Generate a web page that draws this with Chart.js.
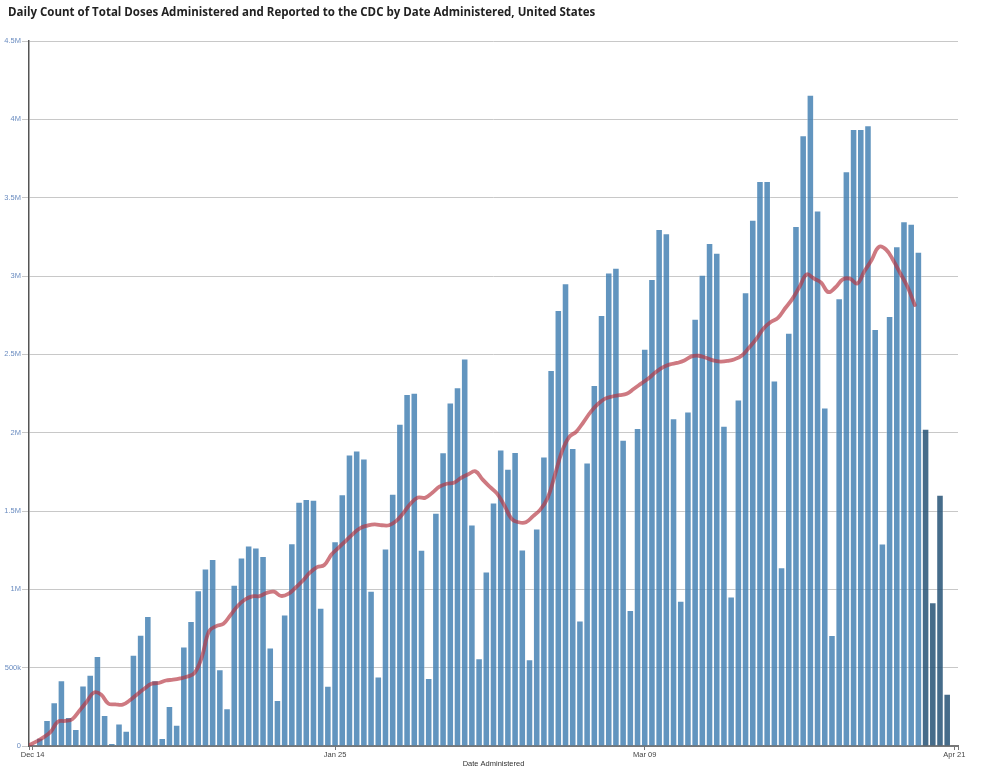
<!DOCTYPE html>
<html>
<head>
<meta charset="utf-8">
<script src="https://cdn.jsdelivr.net/npm/chart.js@4"></script>
<style>
  body { margin: 0; background: #fff; }
  #wrap { width: 982px; height: 768px; position: relative; }
  #title {
    position: absolute; left: 8px; top: 4px;
    font-family: "Open Sans", sans-serif; font-weight: bold; font-size: 11.5px;
    color: #222; white-space: nowrap;
  }
</style>
</head>
<body>
<div id="wrap">
  <div id="title">Daily Count of Total Doses Administered and Reported to the CDC by Date Administered, United States</div>
  <canvas id="myChart"></canvas>
</div>
<script>
const dates = [
  "Dec 14","Dec 15","Dec 16","Dec 17","Dec 18","Dec 19","Dec 20","Dec 21","Dec 22","Dec 23","Dec 24","Dec 25","Dec 26","Dec 27","Dec 28","Dec 29","Dec 30","Dec 31",
  "Jan 01","Jan 02","Jan 03","Jan 04","Jan 05","Jan 06","Jan 07","Jan 08","Jan 09","Jan 10","Jan 11","Jan 12","Jan 13","Jan 14","Jan 15","Jan 16","Jan 17","Jan 18","Jan 19","Jan 20","Jan 21","Jan 22","Jan 23","Jan 24","Jan 25","Jan 26","Jan 27","Jan 28","Jan 29","Jan 30","Jan 31",
  "Feb 01","Feb 02","Feb 03","Feb 04","Feb 05","Feb 06","Feb 07","Feb 08","Feb 09","Feb 10","Feb 11","Feb 12","Feb 13","Feb 14","Feb 15","Feb 16","Feb 17","Feb 18","Feb 19","Feb 20","Feb 21","Feb 22","Feb 23","Feb 24","Feb 25","Feb 26","Feb 27","Feb 28",
  "Mar 01","Mar 02","Mar 03","Mar 04","Mar 05","Mar 06","Mar 07","Mar 08","Mar 09","Mar 10","Mar 11","Mar 12","Mar 13","Mar 14","Mar 15","Mar 16","Mar 17","Mar 18","Mar 19","Mar 20","Mar 21","Mar 22","Mar 23","Mar 24","Mar 25","Mar 26","Mar 27","Mar 28","Mar 29","Mar 30","Mar 31",
  "Apr 01","Apr 02","Apr 03","Apr 04","Apr 05","Apr 06","Apr 07","Apr 08","Apr 09","Apr 10","Apr 11","Apr 12","Apr 13","Apr 14","Apr 15","Apr 16","Apr 17","Apr 18","Apr 19","Apr 20","Apr 21"
];

// daily doses, millions (Dec 14 .. Apr 20)
const dailyDoses = [
  0.005, 0.050, 0.162, 0.276, 0.417, 0.182, 0.105, 0.382, 0.451, 0.571,
  0.194, 0.015, 0.141, 0.094, 0.579, 0.707, 0.827, 0.417, 0.047, 0.252,
  0.132, 0.632, 0.795, 0.991, 1.130, 1.190, 0.487, 0.238, 1.026, 1.200,
  1.277, 1.264, 1.209, 0.626, 0.291, 0.836, 1.291, 1.555, 1.574, 1.568,
  0.879, 0.381, 1.304, 1.604, 1.857, 1.883, 1.832, 0.987, 0.440, 1.257,
  1.607, 2.053, 2.243, 2.251, 1.249, 0.430, 1.485, 1.872, 2.189, 2.287,
  2.470, 1.411, 0.557, 1.111, 1.551, 1.889, 1.766, 1.874, 1.251, 0.551,
  1.385, 1.845, 2.396, 2.779, 2.951, 1.898, 0.798, 1.806, 2.301, 2.748,
  3.019, 3.049, 1.951, 0.864, 2.026, 2.533, 2.977, 3.297, 3.269, 2.089,
  0.923, 2.131, 2.724, 3.005, 3.208, 3.145, 2.040, 0.951, 2.208, 2.893,
  3.355, 3.603, 3.603, 2.330, 1.138, 2.635, 3.316, 3.895, 4.154, 3.414,
  2.157, 0.705, 2.854, 3.665, 3.935, 3.935, 3.959, 2.659, 1.289, 2.741,
  3.186, 3.346, 3.330, 3.151, 2.022, 0.914, 1.600, 0.330
];

// 7-day average line, millions (Dec 14 .. Apr 16)
const sevenDayAvg = [
  0.005, 0.028, 0.055, 0.090, 0.155, 0.160, 0.171, 0.225, 0.282, 0.341,
  0.329, 0.271, 0.266, 0.264, 0.292, 0.329, 0.365, 0.397, 0.402, 0.418,
  0.423, 0.431, 0.443, 0.467, 0.568, 0.732, 0.765, 0.780, 0.837, 0.895,
  0.935, 0.955, 0.957, 0.977, 0.985, 0.958, 0.971, 1.010, 1.055, 1.106,
  1.142, 1.155, 1.222, 1.266, 1.310, 1.354, 1.391, 1.407, 1.415, 1.409,
  1.409, 1.437, 1.488, 1.548, 1.586, 1.584, 1.617, 1.655, 1.674, 1.680,
  1.712, 1.735, 1.753, 1.700, 1.654, 1.611, 1.536, 1.451, 1.428, 1.428,
  1.467, 1.509, 1.581, 1.726, 1.880, 1.972, 2.007, 2.068, 2.133, 2.183,
  2.217, 2.231, 2.239, 2.248, 2.280, 2.313, 2.346, 2.385, 2.417, 2.436,
  2.445, 2.460, 2.487, 2.491, 2.478, 2.461, 2.454, 2.458, 2.469, 2.493,
  2.543, 2.599, 2.665, 2.706, 2.733, 2.794, 2.854, 2.931, 3.010, 2.983,
  2.958, 2.897, 2.928, 2.978, 2.983, 2.952, 3.030, 3.102, 3.185, 3.169,
  3.101, 3.016, 2.930, 2.815
];

const xTickLabels = ["Dec 14", "Jan 25", "Mar 09", "Apr 21"];
const yTickValues = [0, 0.5, 1, 1.5, 2, 2.5, 3, 3.5, 4, 4.5];
const firstIncomplete = "Apr 17"; // darker bars: reporting still coming in

const lagIdx = dates.indexOf(firstIncomplete);
const barColors = dailyDoses.map((v, i) => i >= lagIdx ? "rgba(38,82,118,0.85)" : "rgba(70,130,180,0.85)");
const tickIdx = xTickLabels.map(l => dates.indexOf(l));
const lastIdx = dates.length - 1;

let ctx = document.getElementById("myChart").getContext("2d");

let myChart = new Chart(ctx, {
    type: "bar",
    data: {
        datasets: [
            {
                type: "line",
                label: "7-day average",
                data: sevenDayAvg.map((v, i) => ({ x: i - 0.5, y: v })),
                borderColor: "rgba(180,52,64,0.66)",
                borderWidth: 3.8,
                borderCapStyle: "round",
                pointRadius: 0,
                tension: 0.4,
                fill: false,
                order: 0,
            },
            {
                label: "Doses",
                data: dailyDoses.map((v, i) => ({ x: i, y: v })),
                backgroundColor: barColors,
                borderColor: "rgba(255,255,255,0.28)",
                borderWidth: 0.8,
                barThickness: 6.5,
                order: 1,
            },
        ],
    },
    options: {
        responsive: true,
        maintainAspectRatio: false,
        animation: false,
        layout: { padding: { left: 0, right: 24, top: 41, bottom: 0 } },
        plugins: {
            legend: { display: false },
            tooltip: { enabled: false },
        },
        scales: {
            x: {
                type: "linear",
                offset: false,
                min: -0.5,
                max: lastIdx + 0.5,
                afterBuildTicks: s => {
                    s.ticks = [-0.5, ...tickIdx, lastIdx + 0.5].map(v => ({ value: v }));
                },
                afterFit: s => { s.height = 22; },
                grid: { offset: false, drawOnChartArea: false, drawTicks: true, tickLength: 4, color: "#777" },
                border: { color: "#777", width: 2 },
                ticks: {
                    autoSkip: false,
                    maxRotation: 0,
                    padding: 0,
                    color: "#444",
                    font: { family: "Liberation Sans", size: 7.5 },
                    callback: v => (tickIdx.includes(v) ? dates[v] : ""),
                },
                title: {
                    display: true,
                    text: "Date Administered",
                    color: "#333",
                    font: { family: "Liberation Sans", size: 7.5 },
                    padding: { top: 0, bottom: 0 },
                },
            },
            y: {
                min: 0,
                max: 4.5,
                afterBuildTicks: s => { s.ticks = yTickValues.map(v => ({ value: v })); },
                afterFit: s => { s.width = 29; },
                grid: { color: "#c8c8c8", tickLength: 7 },
                border: { color: "#555", width: 1.5 },
                ticks: {
                    padding: 1,
                    color: "#6a8cc0",
                    font: { family: "Liberation Sans", size: 7.5 },
                    callback: v => (v === 0 ? "0" : v < 1 ? (v * 1000) + "k" : v + "M"),
                },
            },
        },
    },
});
</script>
</body>
</html>
